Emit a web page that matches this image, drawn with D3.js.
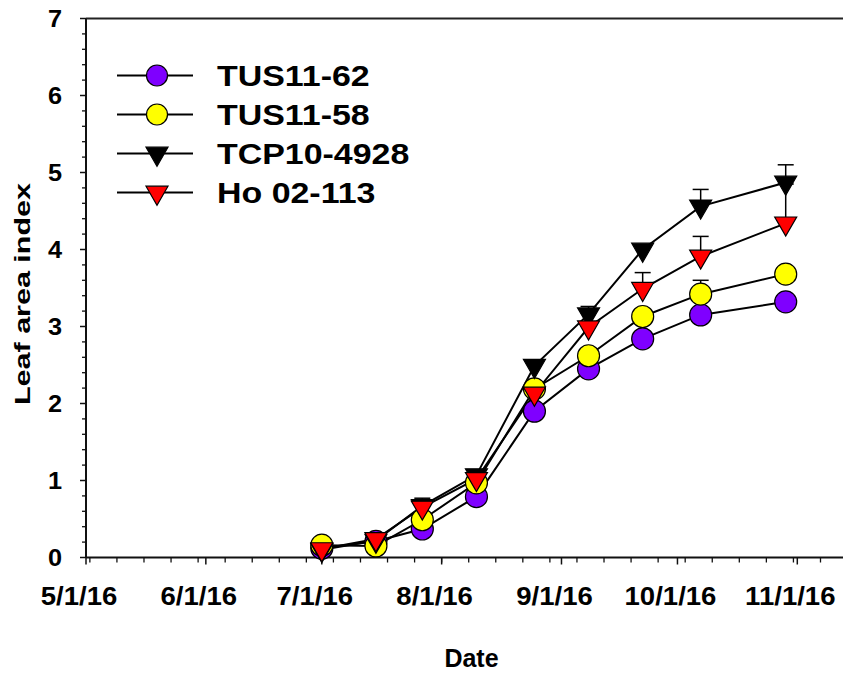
<!DOCTYPE html>
<html>
<head>
<meta charset="utf-8">
<script src="https://cdn.jsdelivr.net/npm/d3@7"></script>
<style>
  html, body { margin: 0; padding: 0; background: #fff; }
  svg { display: block; }
  text { font-family: "Liberation Sans", Arial, sans-serif; font-weight: bold; fill: #000; }
</style>
</head>
<body>
<svg id="chart" width="843" height="673"></svg>
<script>
// Sampling dates
const sampleDates = ["2016-07-01", "2016-07-15", "2016-07-27", "2016-08-10", "2016-08-25",
                     "2016-09-08", "2016-09-22", "2016-10-07", "2016-10-29"];

// Leaf area index per cultivar
const tus1162 = [0.12, 0.21, 0.37, 0.79, 1.90, 2.45, 2.84, 3.15, 3.32];
const tus1158 = [0.16, 0.15, 0.49, 0.97, 2.19, 2.62, 3.13, 3.42, 3.68];
const tcp104928 = [0.10, 0.22, 0.67, 1.07, 2.49, 3.16, 4.00, 4.56, 4.87];
const ho02113 = [0.11, 0.24, 0.65, 1.02, 2.13, 2.99, 3.49, 3.91, 4.34];

// Upper standard errors (null = not shown)
const tus1162Err = [null, null, null, null, null, null, null, null, null];
const tus1158Err = [null, null, null, null, null, null, null, 0.18, null];
const tcp104928Err = [null, null, null, 0.05, null, 0.10, null, 0.22, 0.23];
const ho02113Err = [null, null, 0.12, null, null, null, 0.21, 0.26, 0.51];

const seriesNames = ["TUS11-62", "TUS11-58", "TCP10-4928", "Ho 02-113"];
const seriesColors = ["#7f00ff", "#ffff00", "#000000", "#ff0000"];
const seriesShapes = ["circle", "circle", "triangle", "triangle"];

const yTickLabels = ["0", "1", "2", "3", "4", "5", "6", "7"];
const monthTickLabels = ["5/1/16", "6/1/16", "7/1/16", "8/1/16", "9/1/16", "10/1/16", "11/1/16"];

const parse = d3.timeParse("%Y-%m-%d");
const dates = sampleDates.map(parse);
const seriesValues = [tus1162, tus1158, tcp104928, ho02113];
const seriesErrors = [tus1162Err, tus1158Err, tcp104928Err, ho02113Err];

const W = 843, H = 673;
const svg = d3.select("#chart");

const plotLeft = 86, plotRight = W, plotTop = 18.5, plotBottom = 557.5;
const pxPerDay = (797.3 - 86) / 184;

const x = d3.scaleTime()
  .domain([new Date(2016, 4, 1), new Date(2016, 10, 15)])
  .range([plotLeft, plotLeft + 198 * pxPerDay]);
const y = d3.scaleLinear().domain([0, 7]).range([plotBottom, plotTop]);

const axisG = svg.append("g");

// frame: top border and axis lines
axisG.append("line").attr("x1", plotLeft).attr("x2", plotRight).attr("y1", plotTop).attr("y2", plotTop)
  .attr("stroke", "#222").attr("stroke-width", 2);
axisG.append("line").attr("x1", plotLeft).attr("x2", plotRight).attr("y1", plotBottom).attr("y2", plotBottom)
  .attr("stroke", "#111").attr("stroke-width", 2);
axisG.append("line").attr("x1", plotLeft).attr("x2", plotLeft).attr("y1", plotTop).attr("y2", plotBottom)
  .attr("stroke", "#111").attr("stroke-width", 2);

// y axis ticks
const yMajor = d3.range(0, 8);
const yMinor = d3.range(0, 7.001, 0.2).filter(v => Math.abs(v - Math.round(v)) > 1e-6);
axisG.selectAll(".ymin").data(yMinor).join("line")
  .attr("x1", plotLeft - 4).attr("x2", plotLeft).attr("y1", d => y(d)).attr("y2", d => y(d))
  .attr("stroke", "#111").attr("stroke-width", 1.3);
axisG.selectAll(".ymaj").data(yMajor).join("line")
  .attr("x1", plotLeft - 6).attr("x2", plotLeft).attr("y1", d => y(d)).attr("y2", d => y(d))
  .attr("stroke", "#111").attr("stroke-width", 1.5);
axisG.selectAll(".ylab").data(yMajor).join("text")
  .attr("text-anchor", "end")
  .attr("transform", d => `translate(62,${y(d) + 8}) scale(1.1,1)`)
  .attr("font-size", 23)
  .text((d, i) => yTickLabels[i]);

// x axis ticks: months major, Mondays minor
const monthTicks = d3.timeMonth.range(new Date(2016, 4, 1), new Date(2016, 10, 2));
const weekTicks = d3.timeMonday.range(new Date(2016, 4, 1), new Date(2016, 10, 15))
  .filter(d => x(d) <= W);
axisG.selectAll(".xmin").data(weekTicks).join("line")
  .attr("x1", d => x(d)).attr("x2", d => x(d)).attr("y1", plotBottom).attr("y2", plotBottom + 5)
  .attr("stroke", "#111").attr("stroke-width", 1.3);
axisG.selectAll(".xmaj").data(monthTicks).join("line")
  .attr("x1", d => x(d)).attr("x2", d => x(d)).attr("y1", plotBottom).attr("y2", plotBottom + 7)
  .attr("stroke", "#111").attr("stroke-width", 1.5);
axisG.selectAll(".xlab").data(monthTicks).join("text")
  .attr("text-anchor", "middle")
  .attr("transform", d => `translate(${x(d) - 7},605) scale(1.06,1)`)
  .attr("font-size", 26)
  .text((d, i) => monthTickLabels[i]);

// axis titles
svg.append("text")
  .attr("x", 471.5).attr("y", 667)
  .attr("text-anchor", "middle").attr("font-size", 25)
  .text("Date");
svg.append("text")
  .attr("transform", "translate(30,294) rotate(-90)")
  .attr("text-anchor", "middle").attr("font-size", 22)
  .attr("textLength", 222).attr("lengthAdjust", "spacingAndGlyphs")
  .text("Leaf area index");

// marker drawing
const triPath = "M-11,-6.3 L11,-6.3 L0,12.7 Z";
function drawMarker(g, shape, color, cx, cy, r) {
  if (shape === "circle") {
    g.append("circle").attr("cx", cx).attr("cy", cy).attr("r", r)
      .attr("fill", color).attr("stroke", "#000").attr("stroke-width", 1.2);
  } else {
    g.append("path").attr("d", triPath)
      .attr("transform", `translate(${cx},${cy})`)
      .attr("fill", color).attr("stroke", "#000").attr("stroke-width", 1.2);
  }
}

const plot = svg.append("g");
const line = d3.line().x(d => x(d.date)).y(d => y(d.v));

// connecting lines
seriesValues.forEach(vals => {
  const pts = vals.map((v, i) => ({ date: dates[i], v }));
  plot.append("path").datum(pts).attr("d", line)
    .attr("fill", "none").attr("stroke", "#000").attr("stroke-width", 2);
});

// error bars (upper only)
seriesValues.forEach((vals, s) => {
  vals.forEach((v, i) => {
    const e = seriesErrors[s][i];
    if (e == null) return;
    const cx = x(dates[i]);
    plot.append("line").attr("x1", cx).attr("x2", cx).attr("y1", y(v)).attr("y2", y(v + e))
      .attr("stroke", "#000").attr("stroke-width", 1.5);
    plot.append("line").attr("x1", cx - 8).attr("x2", cx + 8).attr("y1", y(v + e)).attr("y2", y(v + e))
      .attr("stroke", "#000").attr("stroke-width", 1.5);
  });
});

// markers
seriesValues.forEach((vals, s) => {
  const g = plot.append("g");
  vals.forEach((v, i) => drawMarker(g, seriesShapes[s], seriesColors[s], x(dates[i]), y(v), 11));
});

// legend
const legend = svg.append("g");
seriesNames.forEach((name, i) => {
  const ly = 75.5 + i * 39;
  legend.append("line").attr("x1", 117).attr("x2", 193).attr("y1", ly).attr("y2", ly)
    .attr("stroke", "#000").attr("stroke-width", 2);
  drawMarker(legend, seriesShapes[i], seriesColors[i], 157, ly, 10.5);
  legend.append("text")
    .attr("transform", `translate(217,${ly + 10.5}) scale(1.17,1)`)
    .attr("font-size", 29)
    .text(name);
});
</script>
</body>
</html>
